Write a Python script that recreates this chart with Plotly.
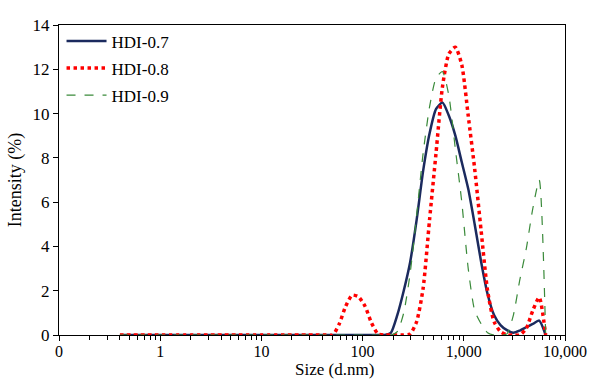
import plotly.graph_objects as go

# Size bins (d.nm)
sizes = [0.4, 0.4632, 0.5365, 0.6213, 0.7195, 0.8332, 0.9649, 1.117, 1.294, 1.499,
         1.736, 2.01, 2.328, 2.696, 3.122, 3.615, 4.187, 4.849, 5.615, 6.503,
         7.531, 8.721, 10.1, 11.7, 13.54, 15.69, 18.17, 21.04, 24.36, 28.21,
         32.67, 37.84, 43.82, 50.75, 58.77, 68.06, 78.82, 91.28, 105.7, 122.4,
         141.8, 164.2, 190.1, 220.2, 255.0, 295.3, 342.0, 396.1, 458.7, 531.2,
         615.1, 712.4, 825.0, 955.4, 1106, 1281, 1484, 1718, 1990, 2305,
         2669, 3091, 3580, 4145, 4801, 5560, 6439]

hdi_07 = [0, 0, 0, 0, 0, 0, 0, 0, 0, 0,
          0, 0, 0, 0, 0, 0, 0, 0, 0, 0,
          0, 0, 0, 0, 0, 0, 0, 0, 0, 0,
          0, 0, 0, 0, 0, 0, 0, 0, 0, 0,
          0, 0, 0.1, 0.9, 2.0, 3.3, 5.2, 7.4, 9.1, 10.2,
          10.5, 9.9, 9.0, 7.8, 6.6, 5.0, 3.3, 1.85, 0.9, 0.45,
          0.22, 0.1, 0.2, 0.35, 0.5, 0.65, 0]

hdi_08 = [0, 0, 0, 0, 0, 0, 0, 0, 0, 0,
          0, 0, 0, 0, 0, 0, 0, 0, 0, 0,
          0, 0, 0, 0, 0, 0, 0, 0, 0, 0,
          0, 0, 0, 0, 0.5, 1.3, 1.8, 1.72, 1.3, 0.55,
          0.05, 0, 0, 0, 0, 0.05, 0.6, 2.1, 5.2, 8.2,
          11.2, 12.7, 13.0, 12.2, 9.9, 7.5, 4.7, 2.0, 0.6, 0.15,
          0, 0, 0, 0.3, 1.1, 1.7, 0]

hdi_09 = [0, 0, 0, 0, 0, 0, 0, 0, 0, 0,
          0, 0, 0, 0, 0, 0, 0, 0, 0, 0,
          0, 0, 0, 0, 0, 0, 0, 0, 0, 0,
          0, 0, 0, 0, 0, 0, 0, 0, 0, 0,
          0, 0, 0, 0.15, 1.0, 2.8, 5.4, 8.2, 10.3, 11.6,
          11.9, 10.8, 8.4, 6.0, 3.0, 1.1, 0.5, 0.1, 0, 0,
          0.05, 0.9, 2.5, 3.9, 5.7, 7.0, 0]

x_tickvals = [0.1, 1, 10, 100, 1000, 10000]
x_ticktext = ["0", "1", "10", "100", "1,000", "10,000"]

FONT = "Times New Roman, Liberation Serif, serif"

fig = go.Figure()
fig.add_trace(go.Scatter(x=sizes, y=hdi_07, mode="lines", name="HDI-0.7",
                         legendgroup="a",
                         line=dict(color="#1b2a5e", width=2.5, shape="spline", smoothing=0.6)))
fig.add_trace(go.Scatter(x=sizes, y=hdi_08, mode="lines", name="HDI-0.8",
                         legendgroup="b",
                         line=dict(color="#ff0000", width=3.5, dash="dot", shape="spline", smoothing=0.6)))
fig.add_trace(go.Scatter(x=sizes, y=hdi_09, mode="lines", name="HDI-0.9",
                         legendgroup="c",
                         line=dict(color="#3a8a3a", width=1.2, dash="dash", shape="spline", smoothing=0.6)))

fig.update_layout(
    width=589, height=379,
    margin=dict(l=59, r=24, t=25, b=44, autoexpand=False),
    paper_bgcolor="white", plot_bgcolor="white",
    font=dict(family=FONT, size=17, color="#000000"),
    showlegend=True,
    legend=dict(x=0.005, y=1.005, xanchor="left", yanchor="top",
                bgcolor="rgba(255,255,255,0)", font=dict(family=FONT, size=17),
                tracegroupgap=2, itemwidth=40),
    annotations=[dict(text="Size (d.nm)", xref="paper", yref="paper",
                      x=0.545, y=-0.112, xanchor="center", yanchor="middle",
                      showarrow=False, font=dict(family=FONT, size=17))],
)

fig.update_xaxes(
    type="log", range=[-1, 4], automargin=False,
    tickvals=x_tickvals, ticktext=x_ticktext,
    showgrid=False, zeroline=False,
    showline=True, linecolor="#000000", linewidth=1.2, mirror=True,
    ticks="outside", ticklen=5, tickcolor="#000000",
    ticklabelstandoff=-3,
    minor=dict(ticks="outside", ticklen=4, tickcolor="#000000", dtick="D1", showgrid=False),
    tickfont=dict(family=FONT, size=16),
)
fig.update_yaxes(
    range=[0, 14], dtick=2, automargin=False,
    showgrid=False, zeroline=False,
    showline=True, linecolor="#000000", linewidth=1.2, mirror=True,
    ticks="outside", ticklen=5, tickcolor="#000000",
    title=dict(text="Intensity (%)", font=dict(family=FONT, size=18), standoff=6),
    tickfont=dict(family=FONT, size=17),
)

fig.write_html("out.html")
